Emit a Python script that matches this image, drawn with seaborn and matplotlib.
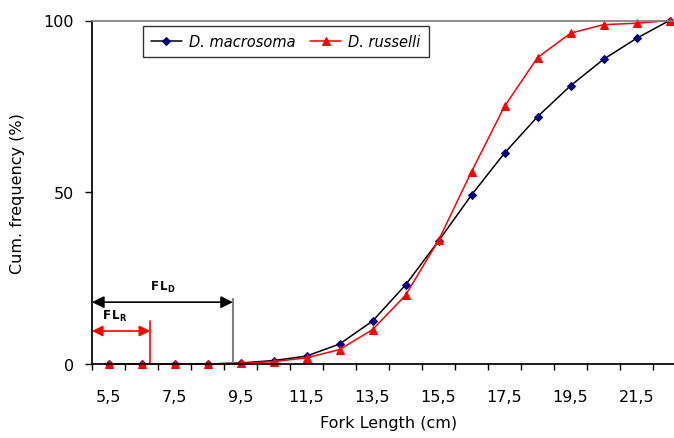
import seaborn as sns
import matplotlib.pyplot as plt
import pandas as pd

# fork length classes (cm) and cumulative frequencies (%)
fork_length = [5.5, 6.5, 7.5, 8.5, 9.5, 10.5, 11.5, 12.5, 13.5, 14.5, 15.5,
               16.5, 17.5, 18.5, 19.5, 20.5, 21.5, 22.5]
macrosoma = [0, 0, 0, 0, 0.3, 1.0, 2.3, 5.8, 12.5, 23.0, 35.8,
             49.2, 61.4, 72.0, 81.0, 88.7, 94.8, 100]
russelli = [0, 0, 0, 0, 0.2, 0.7, 1.8, 4.2, 10.0, 20.0, 36.0,
            56.0, 75.0, 89.2, 96.3, 98.8, 99.2, 100]
tick_labels = ['5,5', '7,5', '9,5', '11,5', '13,5', '15,5', '17,5', '19,5', '21,5']

fl_d = 9.27
fl_r = 6.76

df = pd.DataFrame({'FL': fork_length, 'Dm': macrosoma, 'Dr': russelli})

sns.set_theme(style='ticks', rc={'text.color': 'black', 'axes.labelcolor': 'black',
                                 'xtick.color': 'black', 'ytick.color': 'black'})
plt.rcParams['font.family'] = ['DejaVu Sans']
plt.rcParams['mathtext.fontset'] = 'dejavusans'

fig = plt.figure(figsize=(6.74, 4.39), dpi=100)
ax = fig.add_axes([92 / 674, 1 - 365 / 439, 594 / 674, 343.5 / 439])

sns.lineplot(data=df, x='FL', y='Dm', ax=ax, color='black', lw=1.1,
             marker='D', markersize=4, markerfacecolor='navy',
             markeredgecolor='navy', label='D. macrosoma', clip_on=False)
sns.lineplot(data=df, x='FL', y='Dr', ax=ax, color='red', lw=1.1,
             marker='^', markersize=6, markerfacecolor='red',
             markeredgecolor='red', label='D. russelli', clip_on=False)

ax.set_xlim(5.0, 23.0)
ax.set_ylim(0, 100)
ax.set_xticks([5.5 + 2 * i for i in range(len(tick_labels))])
ax.set_xticklabels(tick_labels, fontsize=11.5)
ax.set_xticks(range(5, 23), minor=True)
ax.tick_params(axis='x', which='major', length=0, pad=18)
ax.tick_params(axis='x', which='minor', length=4, width=1, direction='out')
ax.set_yticks([0, 50, 100])
ax.tick_params(axis='y', length=5, width=1, labelsize=11.5, pad=8)

ax.spines['right'].set_visible(False)
ax.spines['top'].set_color('gray')
for s in ['left', 'bottom']:
    ax.spines[s].set_color('black')

ax.set_xlabel('Fork Length (cm)', fontsize=11.5, labelpad=8)
ax.set_ylabel('Cum. frequency (%)', fontsize=11.5, labelpad=13)

# FL_D and FL_R brackets
ax.annotate('', xy=(5.0, 18), xytext=(fl_d, 18),
            arrowprops=dict(arrowstyle='<|-|>', color='black', lw=1.2,
                            mutation_scale=18, shrinkA=0, shrinkB=0))
ax.plot([fl_d, fl_d], [0, 19], color='gray', lw=1.5)
ax.text(7.15, 20.5, r'$\mathbf{F\,L_D}$', fontsize=8.5, ha='center', va='bottom')

ax.annotate('', xy=(5.0, 9.6), xytext=(fl_r, 9.6),
            arrowprops=dict(arrowstyle='<|-|>', color='red', lw=1.2,
                            mutation_scale=16, shrinkA=0, shrinkB=0))
ax.plot([fl_r, fl_r], [0, 12.5], color='red', lw=1.2)
ax.text(5.7, 11.8, r'$\mathbf{F\,L_R}$', fontsize=8.5, ha='center', va='bottom')

leg = ax.legend(loc='upper left', bbox_to_anchor=(0.086, 0.983), ncol=2,
                frameon=True, fancybox=False, handlelength=2.1,
                handletextpad=0.5, columnspacing=1.0, borderpad=0.55,
                borderaxespad=0, prop={'style': 'italic', 'size': 10.5})
leg.get_frame().set_edgecolor('black')
leg.get_frame().set_linewidth(1)

fig.savefig('out.png', dpi=100)
